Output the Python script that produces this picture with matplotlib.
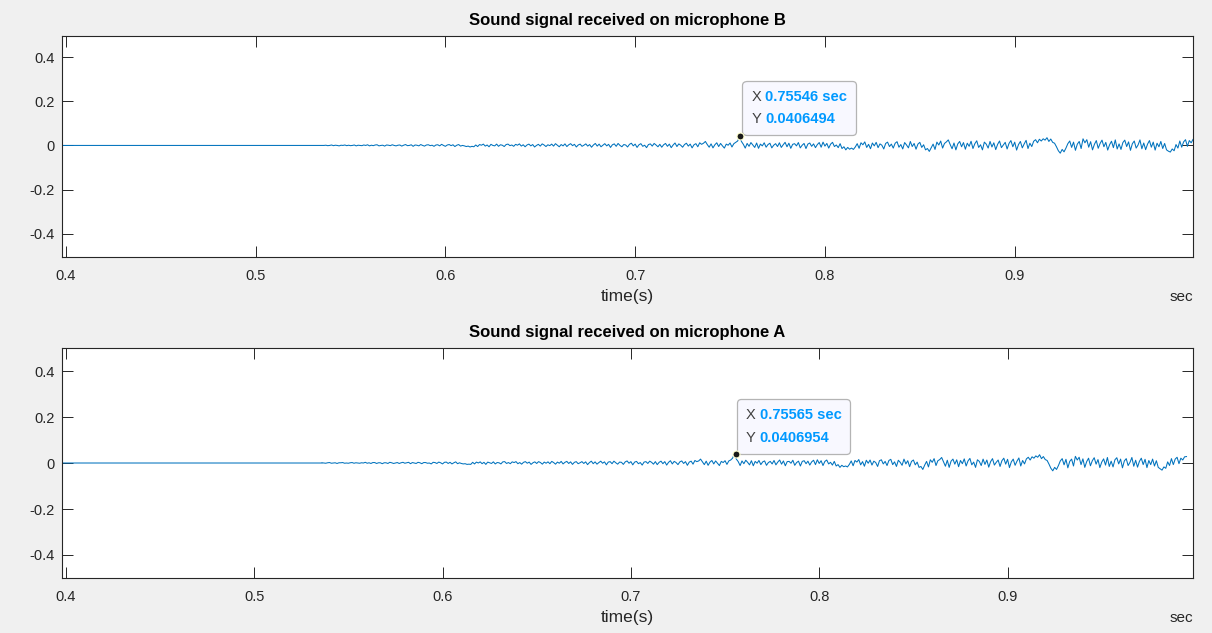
import matplotlib as mpl
import matplotlib.pyplot as plt
import numpy as np
from matplotlib.offsetbox import AnnotationBbox, HPacker, TextArea, VPacker
from matplotlib.ticker import FuncFormatter

# recording: flat before onset, then samples every dt (values in 1e-3 units)
rec_start = 0.39
onset = 0.536
dt = 0.001

sig_b = [
    0, 1, -1, 0, 2, -1, 1, 0, -2, 1, 0, 2, -1, 1, -1, 0, 2, -2, 1, 0,
    -1, 2, 0, 3, -2, 1, -1, 2, 3, -2, 0, 1, -3, 2, 1, -1, 3, 0, -2, 1,
    2, -3, 1, 4, -1, 0, 3, -4, 2, 1, -2, 4, 0, -3, 2, 3, -1, 1, -4, 2,
    3, -2, 5, 0, -4, 2, 4, -1, 3, -5, 1, 4, -3, 0, -2, -5, -3, -7, -4, -6,
    2, -5, 4, 1, 6, -3, 2, -6, 5, 0, -2, 6, -4, 3, 1, -5, 4, 6, -1, 2,
    -4, 5, 1, 7, -3, 3, -6, 2, 6, -2, 4, -7, 0, 5, -3, 7, 2, -5, 3, -1,
    6, -3, 8, 1, -6, 4, -2, 7, -5, 3, 8, -1, 5, -7, 2, 6, -4, 1, 7, -3,
    4, -8, 2, 9, -3, 6, -6, 1, 8, -2, 5, -9, 3, 7, -4, 9, 0, -6, 4, 2,
    -7, 5, 10, -2, 6, -9, 3, 8, -4, 1, -10, 4, 7, -3, 9, 2, -6, 5, -8, 3,
    9, -4, 6, -10, 2, 11, -5, 7, 1, -8, 4, 10, -3, 6, -11, 3, 8, -6, 12, 5,
    10, 18, 4, -8, 7, -11, 3, 12, -5, 9, -2, -12, 6, 1, 11, -7, 8, 14, 20, 40,
    18, 5, -12, 9, -4, 13, 2, -9, 11, -13, 6, -2, 12, -8, 4, 10, -11, 1, 8, -5,
    12, -9, 3, 14, -6, 10, -13, 5, 8, -2, 13, -11, 1, 9, -14, 6, 11, -4, 7, -10,
    4, 13, -8, 15, -3, 9, -12, 6, 14, -5, 2, -10, 8, -14, -6, -20, -9, -17, -12, -18,
    -7, 8, -13, 12, 3, 16, -9, 5, -15, 11, -2, 14, -10, 7, 1, -16, 9, 15, -5, 6,
    -12, 10, 17, -8, 4, -16, 13, 2, -11, 18, -5, 9, -17, 6, 14, -9, 3, -20, -14, -27,
    -10, 6, -18, 15, 2, 20, -12, 9, 16, 25, 4, -15, 11, -20, 7, 18, -6, 13, -17, 10,
    -4, 19, -14, 8, 21, -9, 3, -20, 15, 6, -12, 18, -7, 12, -19, 5, 20, -10, 2, 14,
    -16, 9, 22, -6, 15, -21, 4, 18, -11, 7, 23, -14, 10, -5, 19, 26, 12, 28, 20, 30,
    24, 35, 18, 29, 14, 10, -6, -24, -35, -18, -29, -12, 8, 20, -9, 15, -22, 6, 18, -14,
    30, 12, 26, -8, 17, -20, 5, 22, -13, 9, 24, -6, 14, -21, 3, 19, -10, 25, -16, 7,
    -18, 13, 24, -5, 16, -22, 8, 20, -12, 2, 25, -15, 11, -19, 6, 22, -8, 15, -21, 10,
    -6, 18, -14, 9, -20, -26, -30, -16, -24, 4, -12, 20, -8, 16, 26, -4, 22, 12, 28, 30,
]

sig_a = [
    1, 0, -1, 1, 2, -1, 0, 1, -2, 1, 1, 2, -1, 0, -1, 1, 2, -1, 1, 0,
    -1, 1, 0, 3, -1, 1, -2, 2, 2, -2, 1, 1, -3, 1, 1, -2, 3, 1, -2, 0,
    2, -2, 1, 3, -1, 1, 3, -3, 2, 0, -2, 3, 1, -3, 2, 2, -1, 0, -4, 3,
    2, -2, 4, 1, -4, 3, 4, -2, 3, -4, 1, 5, -3, 1, -2, -4, -3, -6, -5, -6,
    3, -4, 4, 0, 5, -3, 3, -6, 4, 1, -2, 5, -4, 2, 1, -4, 5, 6, -2, 2,
    -3, 5, 2, 6, -3, 2, -5, 3, 6, -1, 4, -6, 1, 5, -2, 6, 2, -5, 4, -1,
    5, -3, 7, 2, -5, 4, -1, 7, -4, 3, 7, -2, 5, -6, 3, 6, -3, 1, 6, -2,
    5, -7, 2, 8, -3, 5, -5, 2, 8, -1, 5, -8, 4, 6, -3, 8, 1, -5, 4, 3,
    -6, 5, 9, -1, 6, -8, 4, 7, -3, 2, -9, 4, 6, -2, 8, 3, -5, 6, -7, 3,
    8, -3, 6, -9, 3, 10, -4, 7, 2, -7, 5, 9, -2, 6, -10, 4, 8, -5, 11, 6,
    9, 17, 5, -7, 8, -10, 4, 11, -4, 9, -1, -11, 7, 2, 10, -6, 9, 13, 21, 41,
    17, 6, -11, 9, -3, 12, 3, -8, 10, -12, 7, -1, 11, -7, 5, 9, -10, 2, 7, -4,
    11, -8, 4, 13, -5, 9, -12, 6, 7, -1, 12, -10, 2, 8, -13, 7, 10, -3, 8, -9,
    5, 12, -7, 14, -2, 10, -11, 7, 13, -4, 3, -9, 7, -13, -7, -19, -10, -16, -13, -17,
    -6, 9, -12, 11, 4, 15, -8, 6, -14, 12, -1, 13, -9, 8, 2, -15, 10, 14, -4, 7,
    -11, 11, 16, -7, 5, -15, 12, 3, -10, 17, -4, 10, -16, 7, 13, -8, 4, -19, -15, -28,
    -9, 7, -17, 14, 3, 19, -11, 10, 15, 24, 5, -14, 12, -19, 8, 17, -5, 14, -16, 11,
    -3, 18, -13, 9, 20, -8, 4, -19, 14, 7, -11, 17, -6, 13, -18, 6, 19, -9, 3, 13,
    -15, 10, 21, -5, 16, -20, 5, 17, -10, 8, 22, -13, 11, -4, 18, 25, 13, 27, 21, 31,
    25, 36, 19, 28, 15, 11, -5, -23, -34, -19, -28, -11, 9, 19, -8, 16, -21, 7, 17, -13,
    29, 13, 25, -7, 18, -19, 6, 21, -12, 10, 23, -5, 15, -20, 4, 18, -9, 24, -15, 8,
    -17, 14, 23, -4, 17, -21, 9, 19, -11, 3, 24, -14, 12, -18, 7, 21, -7, 16, -20, 11,
    -7, 17, -13, 10, -19, -25, -31, -17, -23, 5, -11, 19, -7, 17, 25, -3, 21, 13, 27, 28,
]

# data tips
tip_b = (0.75546, 0.0406494)
tip_a = (0.75565, 0.0406954)

titles = ['Sound signal received on microphone B', 'Sound signal received on microphone A']
xticks = [0.4, 0.5, 0.6, 0.7, 0.8, 0.9]
yticks = [-0.4, -0.2, 0, 0.2, 0.4]

mpl.rcParams['font.family'] = ['Liberation Sans', 'DejaVu Sans']
mpl.rcParams['axes.unicode_minus'] = False

DARK = '#262626'
BLUE = '#0072BD'


def series(vals):
    v = np.asarray(vals, dtype=float) / 1000.0
    t = onset + dt * np.arange(len(v))
    return np.concatenate([[rec_start, onset], t]), np.concatenate([[0, 0], v])


def data_tip(ax, xy, off):
    rows = []
    for lab, val in (('X', '%.5f sec' % xy[0]), ('Y', '%g' % xy[1])):
        rows.append(HPacker(children=[
            TextArea(lab, textprops=dict(color='#404040', fontsize=10.5)),
            TextArea(val, textprops=dict(color='#0099FF', fontsize=10.5, fontweight='bold')),
        ], sep=3, pad=0, align='baseline'))
    box = VPacker(children=rows, sep=6, pad=0, align='left')
    ab = AnnotationBbox(box, xy, xybox=off, xycoords='data', boxcoords='offset pixels',
                        box_alignment=(0, 0), frameon=True,
                        bboxprops=dict(boxstyle='round,pad=0.65,rounding_size=0.3',
                                       fc='#F8F8FF', ec='#B4B4B4', lw=0.9))
    ax.add_artist(ab)
    ax.plot(xy[0], xy[1], 'o', ms=5, mfc='#1A1A1A', mec='#FFFFD0', mew=0.8, zorder=5)


fig = plt.figure(figsize=(12.12, 6.33), dpi=100, facecolor='#F0F0F0')
rects = [[0.0512, 0.594, 0.9332, 0.349], [0.0512, 0.0869, 0.9332, 0.3633]]
xlims = [(0.398, 0.994), (0.398, 0.9985)]
ylims = [(-0.505, 0.495), (-0.5, 0.5)]
signals = [sig_b, sig_a]
tips = [tip_b, tip_a]
offsets = [(11, 10), (10, 9)]

for i, title in enumerate(titles):
    ax = fig.add_axes(rects[i])
    t, y = series(signals[i])
    ax.plot(t, y, color=BLUE, lw=0.75)
    ax.set_xlim(*xlims[i])
    ax.set_ylim(*ylims[i])
    ax.set_xticks(xticks)
    ax.set_yticks(yticks)
    fmt = FuncFormatter(lambda v, p: '%g' % round(v, 2))
    ax.xaxis.set_major_formatter(fmt)
    ax.yaxis.set_major_formatter(fmt)
    ax.tick_params(direction='in', length=8, width=0.7, colors=DARK, labelsize=10.5,
                   top=True, right=True)
    ax.tick_params(axis='x', pad=9)
    ax.tick_params(axis='y', pad=5)
    for s in ax.spines.values():
        s.set_color(DARK)
        s.set_linewidth(0.8)
    ax.set_title(title, fontsize=12, fontweight='bold', color='black', pad=8)
    ax.set_xlabel('time(s)', fontsize=12.5, color=DARK, labelpad=4)
    ax.annotate('sec', xy=(1, 0), xycoords='axes fraction', xytext=(0, -40),
                textcoords='offset pixels', ha='right', va='center', fontsize=11, color=DARK)
    data_tip(ax, tips[i], offsets[i])

fig.savefig('out.png', dpi=100, facecolor=fig.get_facecolor())
